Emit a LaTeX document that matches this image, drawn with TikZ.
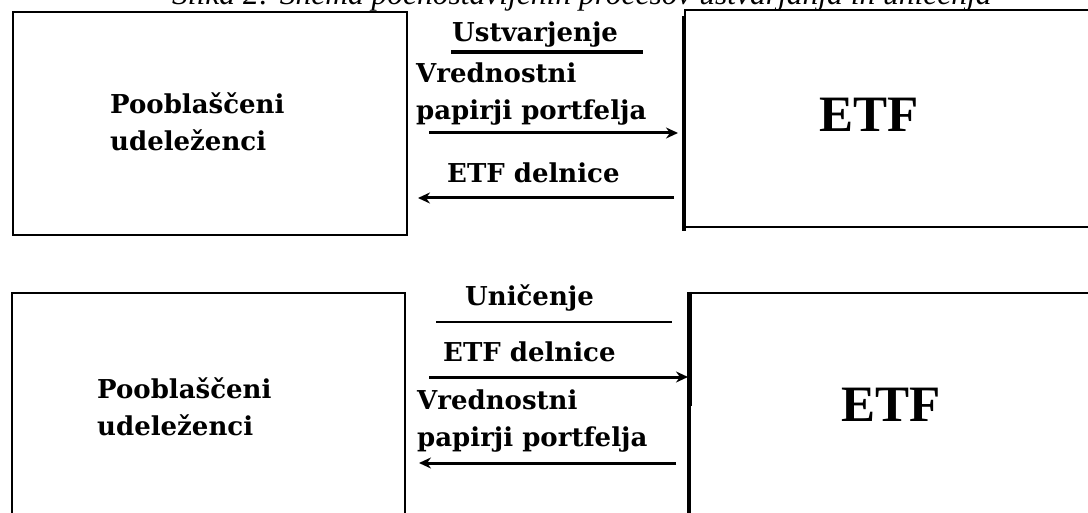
\documentclass[tikz,border=0pt]{standalone}
\usepackage{fontspec}
\usetikzlibrary{arrows.meta}
\setmainfont{DejaVu Serif}
\newfontfamily\capfont{Liberation Serif}
\newfontfamily\etffont{Liberation Serif}
\begin{document}
\begin{tikzpicture}[x=1pt,y=-1pt,
  box/.style={draw, line width=2pt, inner sep=0pt},
  lab/.style={font=\bfseries\fontsize{26}{30}\selectfont, inner sep=0pt, anchor=base west},
  etflab/.style={font=\etffont\bfseries\fontsize{51}{56}\selectfont, inner sep=0pt, anchor=base west},
  flow/.style={line width=3pt, -{Stealth[length=12pt,width=11pt]}},
  rule/.style={line width=1.6pt}
]
\useasboundingbox (0,0) rectangle (1088,513);
\clip (0,0) rectangle (1088,513);

% caption (cut off at the top, as in the reference)
\node[anchor=base west, inner sep=0pt, font=\capfont\itshape\fontsize{31.5}{36}\selectfont] (cap) at (172,4.5)
  {Slika 2: Shema poenostavljenih procesov ustvarjanja in uničenja};

% ---------- upper part: creation ----------
\node[box, minimum width=394pt, minimum height=223pt] (pu1) at (210,123.5) {};
\node[box, minimum width=415pt, minimum height=217pt] (etf1) at (892.5,118.5) {};
\draw[line width=3.5pt] ([yshift=-7pt]etf1.north west) -- ([yshift=-3pt]etf1.south west);

\node[lab] (pu1a) at (110,114) {Pooblaščeni};
\node[lab] (pu1b) at (110,151) {udeleženci};
\node[etflab] (etf1t) at (819,132) {ETF};

\node[lab] (ustv) at (452,42) {Ustvarjenje};
\draw[line width=3.5pt] ([xshift=-1pt,yshift=-10pt]ustv.base west) -- ([xshift=25pt,yshift=-10pt]ustv.base east);
\node[lab] (vp1a) at (416,83) {Vrednostni};
\node[lab] (vp1b) at (416,120) {papirji portfelja};
\draw[flow, shorten <=21pt, shorten >=6pt] (pu1.east |- 0,133) -- (etf1.west |- 0,133);
\node[lab] (ed1) at (447,183) {ETF delnice};
\draw[flow, shorten <=10pt, shorten >=10pt] (etf1.west |- 0,198) -- (pu1.east |- 0,198);

% ---------- lower part: redemption ----------
\node[box, minimum width=393pt, minimum height=267pt] (pu2) at (208.5,426.5) {};
\node[box, minimum width=410pt, minimum height=267pt] (etf2) at (895,426.5) {};
\draw[line width=5pt] (etf2.north west) -- ++(0,114);
\draw[line width=3.5pt] (etf2.north west) -- (etf2.south west);

\node[lab] (pu2a) at (97,398) {Pooblaščeni};
\node[lab] (pu2b) at (97,435) {udeleženci};
\node[etflab] (etf2t) at (841,421) {ETF};

\node[lab] (unic) at (465,306) {Uničenje};
\draw[rule, shorten <=30pt, shorten >=17pt] (pu2.east |- 0,322) -- (etf2.west |- 0,322);
\node[lab] (ed2) at (443,361) {ETF delnice};
\draw[flow, shorten <=23pt, shorten >=1pt] (pu2.east |- 0,377) -- (etf2.west |- 0,377);
\node[lab] (vp2a) at (417,409) {Vrednostni};
\node[lab] (vp2b) at (417,446) {papirji portfelja};
\draw[flow, shorten <=13pt, shorten >=13pt] (etf2.west |- 0,463) -- (pu2.east |- 0,463);
\end{tikzpicture}
\end{document}
